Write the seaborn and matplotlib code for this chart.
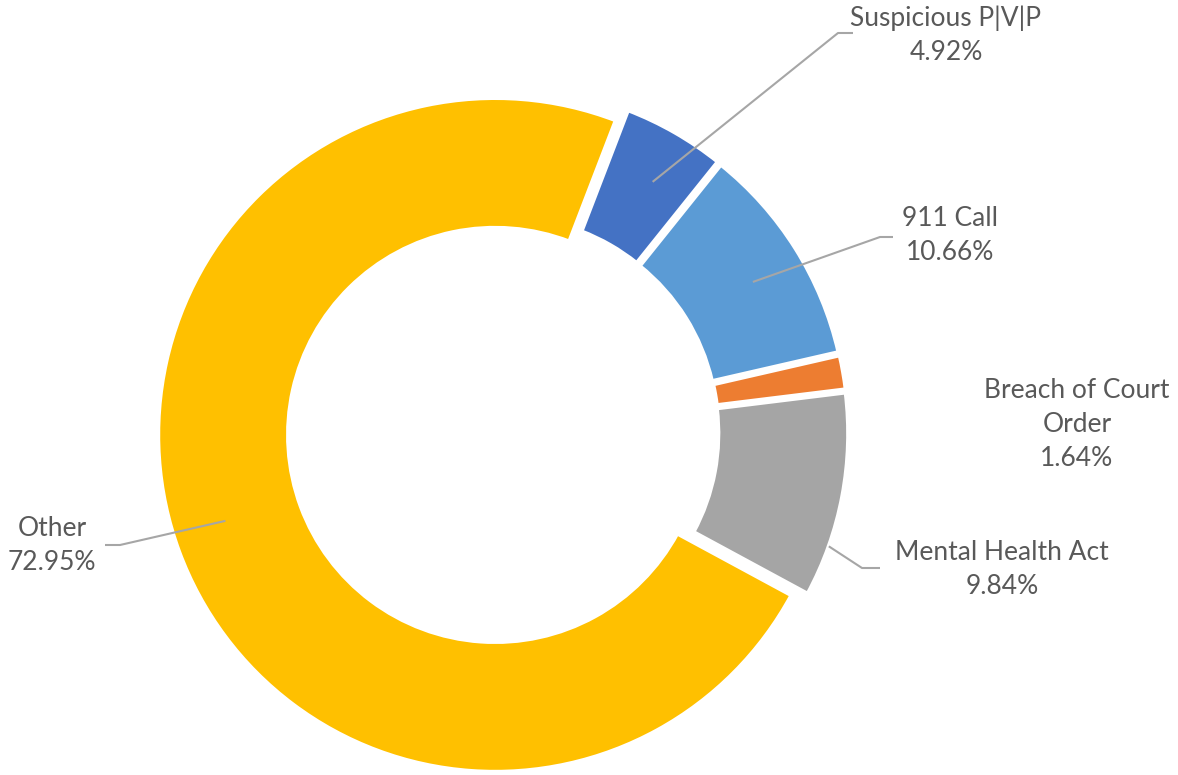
import numpy as np
import matplotlib
matplotlib.use("Agg")
import matplotlib.pyplot as plt
import seaborn as sns

sns.set_theme(style="white")
plt.rcParams['font.family'] = ['Lato', 'DejaVu Sans']

# data
categories = ["Suspicious P|V|P", "911 Call", "Breach of Court Order", "Mental Health Act", "Other"]
label_names = ["Suspicious P|V|P", "911 Call", "Breach of Court\nOrder", "Mental Health Act", "Other"]
shares = [4.92, 10.66, 1.64, 9.84, 72.95]
colors = ["#4472C4", "#5B9BD5", "#ED7D31", "#A5A5A5", "#FFC000"]

W, H = 1178, 775
def px(x, y):
    # pixel coords (y down) -> data coords (y up)
    return (x, H - y)

fig = plt.figure(figsize=(W / 100, H / 100), dpi=100)
ax = fig.add_axes([0, 0, 1, 1])

R = 337
ring = 130
center = px(503, 432)
wedges, _ = ax.pie(shares, colors=colors, radius=R, center=center,
                   startangle=69, counterclock=False,
                   explode=[8.4] * len(shares),
                   wedgeprops=dict(width=ring, edgecolor="white", linewidth=3))

ax.set_xlim(0, W)
ax.set_ylim(0, H)
ax.set_aspect("equal")
ax.axis("off")

# label layout: text centre, elbow, line end, anchor radius fraction,
# anchor position along the slice (0 = start, 1 = end, clockwise)
layout = {
    0: dict(text=(946, 35), elbow=(838, 33), end=(853, 33), frac=0.84, pos=0.56),
    1: dict(text=(950, 236), elbow=(880, 237), end=(893, 237), frac=0.84, pos=0.53),
    2: dict(text=(1077, 425), elbow=None, end=None, frac=None, pos=None),
    3: dict(text=(1002, 569), elbow=(862, 568), end=(880, 568), frac=1.0, pos=0.75),
    4: dict(text=(52, 545), elbow=(120, 545), end=(105, 545), frac=0.84, pos=0.51),
}

txt_color = "#595959"
line_color = "#A6A6A6"
for i, w in enumerate(wedges):
    lay = layout[i]
    label = f"{label_names[i]}\n{shares[i]:.2f}%"
    tx, ty = px(*lay["text"])
    ax.text(tx, ty, label, ha="center", va="center", fontsize=19,
            color=txt_color, linespacing=1.45)
    if lay["elbow"] is None:
        continue
    ang = np.deg2rad(w.theta2 - lay["pos"] * (w.theta2 - w.theta1))
    cx, cy = w.center
    rr = w.r * lay["frac"]
    ax_, ay_ = cx + rr * np.cos(ang), cy + rr * np.sin(ang)
    ex, ey = px(*lay["elbow"])
    nx, ny = px(*lay["end"])
    ax.plot([ax_, ex, nx], [ay_, ey, ny], color=line_color, lw=1.5,
            solid_capstyle="butt", zorder=5)

fig.savefig("out.png", dpi=100, facecolor="white")
